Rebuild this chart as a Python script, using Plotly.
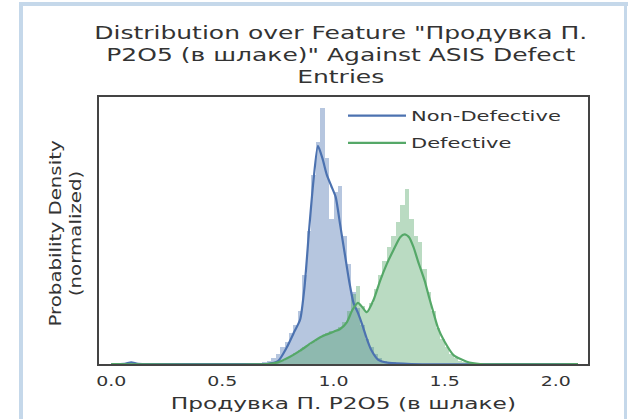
import plotly.graph_objects as go

# ---- data ----
blue_hist_x = [0.69, 0.71, 0.73, 0.75, 0.77, 0.79, 0.81, 0.83, 0.85, 0.87, 0.89, 0.91, 0.93, 0.95,
               0.97, 0.99, 1.01, 1.03, 1.05, 1.07, 1.09, 1.11, 1.13, 1.15, 1.17, 1.19, 1.21, 1.23,
               1.25, 1.27]
blue_hist_y = [0.02, 0.05, 0.10, 0.18, 0.30, 0.40, 0.55, 0.70, 0.95, 1.60, 2.40, 3.40, 4.00, 4.60,
               3.70, 2.60, 3.10, 3.20, 2.30, 1.80, 1.30, 1.00, 0.70, 0.45, 0.30, 0.18, 0.10, 0.06,
               0.04, 0.02]

green_hist_x = [0.75, 0.77, 0.79, 0.81, 0.83, 0.85, 0.87, 0.89, 0.91, 0.93, 0.95, 0.97, 0.99, 1.01,
                1.03, 1.05, 1.07, 1.09, 1.11, 1.13, 1.15, 1.17, 1.19, 1.21, 1.23, 1.25, 1.27, 1.29,
                1.31, 1.33, 1.35, 1.37, 1.39, 1.41, 1.43, 1.45, 1.47, 1.49, 1.51, 1.53, 1.55, 1.57,
                1.59, 1.61]
green_hist_y = [0.02, 0.05, 0.10, 0.15, 0.20, 0.25, 0.30, 0.35, 0.40, 0.45, 0.50, 0.55, 0.60, 0.62,
                0.66, 0.75, 0.95, 1.25, 1.40, 1.05, 0.95, 1.10, 1.35, 1.60, 1.85, 2.10, 2.30, 2.55,
                2.85, 3.15, 2.60, 2.30, 2.20, 1.70, 1.30, 0.95, 0.65, 0.45, 0.30, 0.18, 0.10, 0.06,
                0.03, 0.02]

blue_kde_x = [0.00, 0.06, 0.09, 0.12, 0.20, 0.60, 0.70, 0.75, 0.79, 0.82, 0.85, 0.87, 0.89, 0.91,
              0.93, 0.95, 0.97, 0.99, 1.01, 1.03, 1.05, 1.07, 1.09, 1.11, 1.13, 1.15, 1.17, 1.20,
              1.25, 1.35, 2.10]
blue_kde_y = [0.00, 0.005, 0.03, 0.005, 0.00, 0.00, 0.00, 0.05, 0.30, 0.55, 0.80, 1.40, 2.40, 3.30,
              3.92, 3.70, 3.40, 3.20, 3.00, 2.50, 2.00, 1.50, 1.10, 0.92, 0.70, 0.45, 0.25, 0.08,
              0.02, 0.00, 0.00]

green_kde_x = [0.00, 0.70, 0.75, 0.80, 0.85, 0.90, 0.95, 1.00, 1.03, 1.06, 1.085, 1.11, 1.13, 1.15,
               1.18, 1.21, 1.24, 1.27, 1.30, 1.32, 1.34, 1.36, 1.38, 1.41, 1.43, 1.45, 1.47, 1.50,
               1.54, 1.60, 1.66, 2.10]
green_kde_y = [0.00, 0.00, 0.03, 0.12, 0.24, 0.38, 0.50, 0.58, 0.63, 0.75, 0.97, 1.10, 1.02, 0.93,
               1.15, 1.50, 1.80, 2.05, 2.28, 2.33, 2.28, 2.10, 1.85, 1.50, 1.20, 0.92, 0.65, 0.40,
               0.16, 0.04, 0.00, 0.00]

tick_vals = [0.0, 0.5, 1.0, 1.5, 2.0]
tick_text = ["0.0", "0.5", "1.0", "1.5", "2.0"]

BLUE = "#4c72b0"
GREEN = "#55a868"
TXT = "#333333"
FONT = "DejaVu Sans"

fig = go.Figure()
fig.add_trace(go.Bar(x=blue_hist_x, y=blue_hist_y, width=0.02, marker=dict(color=BLUE, line=dict(width=0)),
                     opacity=0.4, showlegend=False, hoverinfo="skip"))
fig.add_trace(go.Bar(x=green_hist_x, y=green_hist_y, width=0.02, marker=dict(color=GREEN, line=dict(width=0)),
                     opacity=0.4, showlegend=False, hoverinfo="skip"))
fig.add_trace(go.Scatter(x=blue_kde_x, y=blue_kde_y, mode="lines", name="Non-Defective",
                         line=dict(color=BLUE, width=2.2, shape="spline", smoothing=0.6),
                         legendgroup="a"))
fig.add_trace(go.Scatter(x=green_kde_x, y=green_kde_y, mode="lines", name="Defective",
                         line=dict(color=GREEN, width=2.2, shape="spline", smoothing=0.6),
                         legendgroup="b"))

L, R, T, B = 99, 40, 97, 55
W, H = 628, 419
pw, ph = W - L - R, H - T - B

def px(x):
    return (x - L) / pw

def py(y):
    return (H - B - y) / ph

frame = "#c5d8ea"
shapes = [
    dict(type="rect", xref="paper", yref="paper", x0=px(19), x1=px(23), y0=py(419), y1=py(2),
         fillcolor=frame, line=dict(width=0), layer="below"),
    dict(type="rect", xref="paper", yref="paper", x0=px(19), x1=px(628), y0=py(6), y1=py(2),
         fillcolor=frame, line=dict(width=0), layer="below"),
    dict(type="rect", xref="paper", yref="paper", x0=px(624), x1=px(627), y0=py(419), y1=py(2),
         fillcolor=frame, line=dict(width=0), layer="below"),
]

annotations = [
    dict(text="Distribution over Feature \"Продувка П.<br>P2O5 (в шлаке)\" Against ASIS Defect<br>Entries",
         xref="paper", yref="paper", x=px(340), y=py(55), xanchor="center", yanchor="middle",
         showarrow=False, font=dict(family=FONT, size=17, color=TXT)),
    dict(text="Probability Density<br>(normalized)", xref="paper", yref="paper",
         x=px(66), y=py(234), xanchor="center", yanchor="middle", textangle=-90,
         showarrow=False, font=dict(family=FONT, size=15, color=TXT)),
    dict(text="Продувка П. P2O5 (в шлаке)", xref="paper", yref="paper",
         x=px(343), y=py(404), xanchor="center", yanchor="middle",
         showarrow=False, font=dict(family=FONT, size=15, color=TXT)),
]

fig.update_layout(
    width=W, height=H,
    margin=dict(l=L, r=R, t=T, b=B, pad=0),
    paper_bgcolor="white", plot_bgcolor="white",
    barmode="overlay", bargap=0,
    font=dict(family=FONT, size=14, color=TXT),
    shapes=shapes, annotations=annotations,
    legend=dict(x=px(343), y=py(100), xanchor="left", yanchor="top",
                bgcolor="rgba(0,0,0,0)", font=dict(family=FONT, size=14, color=TXT),
                tracegroupgap=6, itemwidth=58),
    xaxis=dict(range=[-0.055, 2.145], tickvals=tick_vals, ticktext=tick_text, showgrid=False,
               zeroline=False, ticks="", showline=True, mirror=True, linecolor="#444444", linewidth=1.5,
               tickfont=dict(family=FONT, size=14, color=TXT), ticklabelstandoff=3),
    yaxis=dict(range=[0, 4.8], showticklabels=False, showgrid=False, zeroline=False, ticks="",
               showline=True, mirror=True, linecolor="#444444", linewidth=1.5),
)

# The reference's lettering is drawn wider than DejaVu Sans; widen the real text glyphs.
post = """
document.body.style.margin = '0';
var gd = document.getElementById('{plot_id}');
function stretch(el, f) {
  var lines = el.querySelectorAll('tspan.line');
  var items = lines.length ? Array.prototype.slice.call(lines) : [el];
  items.forEach(function (s) {
    var w = s.getComputedTextLength();
    s.setAttribute('textLength', (w * f).toFixed(1));
    s.setAttribute('lengthAdjust', 'spacingAndGlyphs');
  });
}
function apply(sel, f) {
  gd.querySelectorAll(sel).forEach(function (e) { stretch(e, f); });
}
apply('.annotation[data-index="0"] text', 1.47);
apply('.annotation[data-index="1"] text', 1.32);
apply('.annotation[data-index="2"] text', 1.55);
apply('.legendtext', 1.5);
apply('.xtick text', 1.35);
gd.querySelectorAll('.legend [clip-path]').forEach(function (e) { e.removeAttribute('clip-path'); });
"""

fig.write_html("out.html", post_script=post, config={"displayModeBar": False})
